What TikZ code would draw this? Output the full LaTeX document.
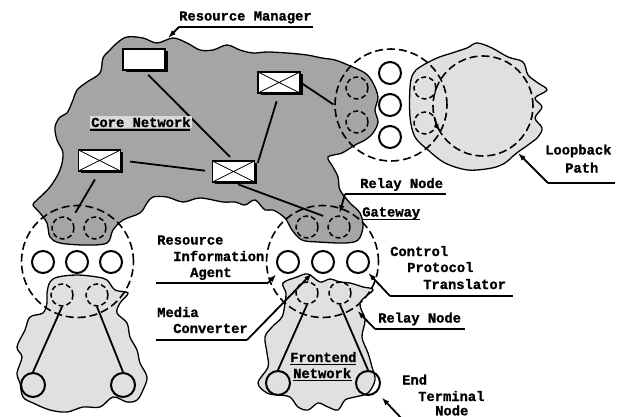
\documentclass[tikz,border=0pt]{standalone}
\usepackage{fontspec}
\newfontfamily\monob{Liberation Mono}[BoldFeatures={FakeBold=1.2}]
\usetikzlibrary{arrows.meta,shadows}
\definecolor{coregray}{RGB}{165,165,165}
\definecolor{lightdot}{RGB}{224,224,224}
\definecolor{labelbg}{RGB}{218,218,218}
\begin{document}
\begin{tikzpicture}[x=1pt,y=-1pt,
  core/.style={fill=coregray, draw=black, line width=1.3pt},
  light/.style={fill=lightdot, draw=black, line width=1.3pt},
  gwc/.style={circle, draw, dash pattern=on 8pt off 4pt, line width=1.6pt, minimum size=112pt, inner sep=0pt},
  port/.style={circle, draw, line width=2pt, fill=white, minimum size=22pt, inner sep=0pt},
  dport/.style={circle, draw, dash pattern=on 5pt off 3pt, line width=1.5pt, minimum size=22pt, inner sep=0pt},
  term/.style={circle, draw, line width=2pt, minimum size=24pt, inner sep=0pt},
  sw/.style={rectangle, draw, fill=white, line width=1.3pt, minimum width=42pt, minimum height=21pt, inner sep=0pt,
     drop shadow={fill=black, opacity=1, shadow xshift=2.5pt, shadow yshift=-2.5pt}},
  xsw/.style={sw, path picture={\draw[line width=0.8pt]
     (path picture bounding box.north west) -- (path picture bounding box.south east)
     (path picture bounding box.south west) -- (path picture bounding box.north east);}},
  link/.style={line width=1.8pt},
  uline/.style={line width=1.8pt},
  lead/.style={line width=1.8pt, -{Latex[length=8pt,width=5.5pt]}},
  lbl/.style={anchor=base west, inner sep=0pt, font=\monob\bfseries\fontsize{13.8}{16}\selectfont}
]
\useasboundingbox (0,0) rectangle (624,417);

% ---- blobs ----
\path[core] plot[smooth cycle, tension=0.55] coordinates {
(117,43) (127,37) (143,38) (157,43) (173,38) (187,43) (200,50) (213,50) (227,45) (240,50)
(253,53) (267,52) (287,53) (307,55) (322,58) (335,60) (348,65) (365,73) (373,83) (378,97)
(375,110) (378,122) (373,133) (365,140) (355,145) (342,153) (328,157) (333,167) (338,177)
(340,190) (350,203) (360,213) (363,227) (358,240) (345,243) (318,242) (302,240) (292,230)
(285,218) (273,210) (265,210) (255,200) (245,205) (235,202) (223,202) (200,198) (183,202)
(167,197) (153,197) (147,203) (140,213) (123,220) (113,230) (107,243) (85,245) (60,243)
(50,237) (47,223) (40,213) (33,205) (37,200) (50,187) (60,170) (63,153) (57,140) (55,127)
(60,117) (67,113) (73,100) (77,90) (87,82) (100,73) (103,58) (110,50)};

\path[light] plot[smooth cycle, tension=0.55] coordinates {
(50,282) (58,277) (77,275) (97,277) (107,280) (115,290) (128,293) (120,303) (117,313)
(127,323) (130,337) (137,350) (140,363) (147,377) (143,390) (137,400) (127,402) (113,397)
(100,407) (83,407) (67,412) (50,410) (33,403) (23,397) (20,383) (17,373) (22,357) (17,347)
(25,330) (30,317) (43,313) (47,303) (47,293)};

\path[light] plot[smooth cycle, tension=0.55] coordinates {
(283,283) (297,277) (308,274) (320,282) (330,279) (340,282) (350,283) (363,287) (373,290)
(360,303) (365,320) (362,337) (368,353) (372,367) (375,380) (368,393) (355,397) (345,400)
(338,410) (328,407) (318,403) (308,410) (298,407) (290,397) (278,395) (267,393) (258,383)
(268,367) (267,353) (265,337) (272,327) (282,317) (285,303) (286,293)};

\path[light] plot[smooth cycle, tension=0.55] coordinates {
(420,67) (437,58) (452,53) (467,48) (477,43) (492,48) (508,57) (523,62) (528,75) (538,83)
(547,90) (535,98) (542,107) (535,118) (542,128) (538,137) (528,145) (518,152) (512,157)
(505,163) (492,168) (468,170) (445,163) (428,150) (415,137) (410,117) (410,87) (413,74)};

% ---- gateways and clusters ----
\node[gwc] (gwL) at (77.5,261.5) {};
\node[gwc] (gwR) at (322.5,261.5) {};
\node[gwc] (cl) at (391,105) {};
\node[gwc, minimum size=100pt] (lb) at (483,106) {};
\draw[line width=1.6pt, -{Latex[length=7pt,width=5pt]}] ([shift={(160:50)}]lb.center) arc[start angle=160, end angle=150, radius=50];

% left gateway
\node[port] (cL1) at (43,262) {};
\node[port] (cL2) at (77,262) {};
\node[port] (cL3) at (111,262) {};
\node[dport] (dL1) at (63,228) {};
\node[dport] (dL2) at (95,228) {};
\node[dport] (dL3) at (62,295) {};
\node[dport] (dL4) at (97,295) {};
\node[term] (eL1) at (33,385) {};
\node[term] (eL2) at (123,385) {};

% centre gateway
\node[port] (cR1) at (288,262) {};
\node[port] (cR2) at (323,262) {};
\node[port] (cR3) at (358,262) {};
\node[dport] (dR1) at (307,227) {};
\node[dport] (dR2) at (339,227) {};
\node[dport] (dR3) at (307,293) {};
\node[dport] (dR4) at (340,293) {};
\node[term] (eR1) at (278,383) {};
\node[term] (eR2) at (368,383) {};

% right cluster
\node[port] (cT1) at (390,73) {};
\node[port] (cT2) at (390,105) {};
\node[port] (cT3) at (390,137) {};
\node[dport] (dT1) at (357,88) {};
\node[dport] (dT2) at (357,122) {};
\node[dport] (dT3) at (425,88) {};
\node[dport] (dT4) at (425,123) {};

% ---- switches ----
\node[sw] (rm) at (144,59.5) {};
\node[xsw] (swA) at (279,82.5) {};
\node[xsw] (swB) at (99.5,160.5) {};
\node[xsw] (swC) at (233.5,171.5) {};

% ---- links ----
\draw[link, shorten <=6pt, shorten >=5pt] (rm.south) -- (swC.north);
\draw[link, shorten <=8pt, shorten >=9pt] (swA.south) -- (swC.east);
\draw[link, shorten <=9pt, shorten >=7pt] (swB.east) -- (swC.west);
\draw[link, shorten <=9pt, shorten >=8pt] (swB.south) -- (dL1.north east);
\draw[link, shorten <=5pt, shorten >=8pt] (swC.south) -- (dR2.north west);
\draw[link, shorten <=2pt, shorten >=1pt] (swA.east) -- (cl.west);
\draw[link] (dL3.south) -- (eL1.north);
\draw[link] (dL4.south) -- (eL2.north);
\draw[link] (dR3.south) -- (eR1.north);
\draw[link] (dR4.south) -- (eR2.north);

% ---- labels ----
\node[lbl] (tRM) at (179,20.5) {Resource Manager};
\node[lbl, fill=labelbg, inner sep=1pt] (tCore) at (90,127) {Core Network};
\node[lbl] (tRel1) at (360,188) {Relay Node};
\node[lbl] (tGate) at (362,216.5) {Gateway};
\node[lbl] (tRIA1) at (157,244.5) {Resource};
\node[lbl] (tRIA2) at (173,261) {Information};
\node[lbl] (tRIA3) at (190,277) {Agent};
\node[lbl] (tCPT1) at (390,256) {Control};
\node[lbl] (tCPT2) at (407,272) {Protocol};
\node[lbl] (tCPT3) at (423,289) {Translator};
\node[lbl] (tMC1) at (157,317) {Media};
\node[lbl] (tMC2) at (173,333) {Converter};
\node[lbl] (tRel2) at (378,322.5) {Relay Node};
\node[lbl] (tFE1) at (290,362) {Frontend};
\node[lbl] (tFE2) at (293,378) {Network};
\node[lbl] (tETN1) at (402,384.5) {End};
\node[lbl] (tETN2) at (418,401) {Terminal};
\node[lbl] (tETN3) at (435,415.3) {Node};
\node[lbl] (tLB1) at (545,154.5) {Loopback};
\node[lbl] (tLB2) at (565,172.5) {Path};

% ---- underlines and leaders ----
\coordinate (uRM) at (179,27);     \coordinate (uRMe) at (313,27);   \coordinate (aRM) at (168,38);
\coordinate (uCore) at (90,130);   \coordinate (uCoree) at (190,130);
\coordinate (uRel1) at (345,194);  \coordinate (uRel1e) at (446,194);
\coordinate (uGate) at (362,219.5);\coordinate (uGatee) at (420,219.5);
\coordinate (uRIA) at (268,283);   \coordinate (uRIAs) at (156,283);
\coordinate (uCPT) at (390,296);   \coordinate (uCPTe) at (513,296);
\coordinate (uMC) at (247,340);    \coordinate (uMCs) at (156,340);
\coordinate (uRel2) at (375,329);  \coordinate (uRel2e) at (465,329);
\coordinate (uFE1) at (290,364.5); \coordinate (uFE1e) at (356,364.5);
\coordinate (uFE2) at (293,380.5); \coordinate (uFE2e) at (352,380.5);
\coordinate (uLB) at (548,183);    \coordinate (uLBe) at (615,183);  \coordinate (aLB) at (518,153);
\coordinate (uETN) at (403,420);

\draw[uline] (uRM) -- (uRMe);
\draw[lead] (uRM) -- (aRM);
\draw[uline] (uCore) -- (uCoree);
\draw[uline] (uRel1) -- (uRel1e);
\draw[lead, shorten >=2pt] (uRel1) -- (dR2.north);
\draw[uline] (uGate) -- (uGatee);
\draw[uline] (uRIAs) -- (uRIA);
\draw[lead, shorten >=17pt] (uRIA) -- (cR1.center);
\draw[uline] (uCPT) -- (uCPTe);
\draw[lead, shorten >=15pt] (uCPT) -- (cR3.center);
\draw[uline] (uMCs) -- (uMC);
\draw[lead, shorten >=16pt] (uMC) -- (cR2.center);
\draw[uline] (uRel2) -- (uRel2e);
\draw[lead, shorten >=25pt] (uRel2) -- (dR4.center);
\draw[uline] (uFE1) -- (uFE1e);
\draw[uline] (uFE2) -- (uFE2e);
\draw[uline] (uLB) -- (uLBe);
\draw[lead] (uLB) -- (aLB);
\draw[lead, shorten >=20pt] (uETN) -- (eR2.center);
\end{tikzpicture}
\end{document}
